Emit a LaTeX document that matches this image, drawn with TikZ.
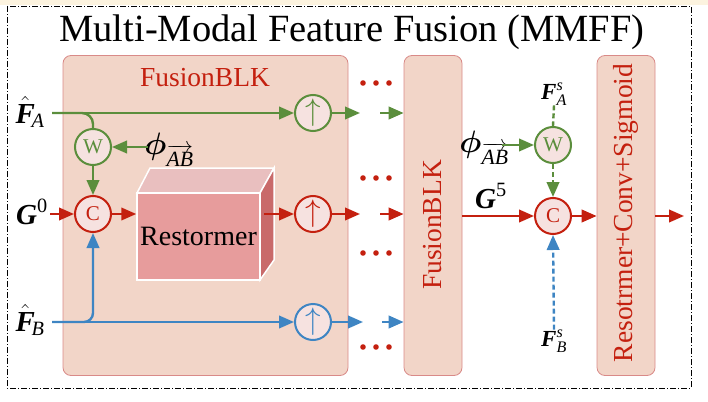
\RequirePackage{fix-cm}
\documentclass[tikz,border=0pt]{standalone}
\usepackage{amsmath,bm}
\usepackage{fontspec}
\setmainfont{Liberation Serif}
\usetikzlibrary{arrows.meta,calc}
\definecolor{cg}{HTML}{5B8E3C}
\definecolor{cr}{HTML}{C4200F}
\definecolor{cb}{HTML}{3E85C3}
\definecolor{boxfill}{HTML}{F2D5C8}
\definecolor{boxedge}{HTML}{D98A88}
\definecolor{circfill}{HTML}{F6E2E0}
\definecolor{cream}{HTML}{FCF3DF}
\definecolor{frontface}{HTML}{E79C9C}
\definecolor{topface}{HTML}{E9BFBF}
\definecolor{sideface}{HTML}{C96A6A}
\newcommand{\bfitx}[1]{\text{\bfseries\itshape #1}}
\newcommand{\itx}[1]{\text{\itshape #1}}
\begin{document}
\begin{tikzpicture}[x=1pt,y=-1pt,
  blk/.style={draw=boxedge,fill=boxfill,line width=0.8pt,rounded corners=8pt,inner sep=0pt},
  opc/.style={circle,draw=#1,fill=circfill,line width=2pt,minimum size=36pt,inner sep=0pt,text=#1,font=\fontsize{21}{21}\selectfont},
  upc/.style={opc=#1,font=\fontsize{31}{31}\selectfont},
  conn/.style={draw=#1,line width=2.4pt,-{Triangle[length=15pt,width=12.5pt]}},
  plain/.style={draw=#1,line width=2.4pt},
  lbl/.style={inner sep=0pt,font=\fontsize{29}{31}\selectfont},
  philbl/.style={inner sep=0pt,font=\fontsize{31}{33}\selectfont},
  big/.style={font=\fontsize{27.5}{30}\selectfont,text=cr},
  border/.style={draw=black,line width=0.8pt,dash pattern=on 6pt off 2pt on 1pt off 2pt}
]
\useasboundingbox (0,0) rectangle (708,401);
\fill[cream] (0,0) rectangle (708,5);
\draw[border] (7,6) rectangle (691,388);

\node[font=\fontsize{38.5}{40}\selectfont,anchor=base] (title) at (352,42) {Multi-Modal Feature Fusion (MMFF)};

% boxes
\node[blk,minimum width=285pt,minimum height=320pt] (blk1) at (205.5,215.5) {};
\node[big,anchor=base] (blk1lbl) at (205,87) {FusionBLK};
\node[blk,minimum width=58pt,minimum height=320pt] (blk2) at (433,215.5) {};
\node[big,rotate=90] (blk2lbl) at (433,225) {FusionBLK};
\node[blk,minimum width=58pt,minimum height=320pt] (blk3) at (626,215.5) {};
\node[big,rotate=90] (blk3lbl) at (626,213) {Resotrmer+Conv+Sigmoid};

% Restormer 3D box
\fill[topface,draw=white,line width=1.5pt] (137,193) -- (150,168) -- (274,168) -- (260,193) -- cycle;
\fill[sideface,draw=white,line width=1.5pt] (260,193) -- (274,168) -- (274,260) -- (260,280) -- cycle;
\node[fill=frontface,draw=white,line width=1.5pt,minimum width=123pt,minimum height=87pt,inner sep=0pt,
  font=\fontsize{28}{30}\selectfont] (rest) at (198.5,236.5) {Restormer};

% circles
\node[opc=cg] (W1) at (93,147) {W};
\node[opc=cr] (C1) at (93,214) {C};
\node[upc=cg] (U1) at (313,113) {$\uparrow$};
\node[upc=cr] (U2) at (313,214) {$\uparrow$};
\node[upc=cb] (U3) at (313,322) {$\uparrow$};
\node[opc=cg] (W2) at (553,145) {W};
\node[opc=cr] (C2) at (553,216) {C};

% labels
\node[lbl] (FA) at (30,112) {$\hat{\bfitx{F}}_{\!\itx{A}}$};
\node[lbl] (G0) at (32,212) {$\bfitx{G}^{\text{0}}$};
\node[lbl] (FB) at (30,320) {$\hat{\bfitx{F}}_{\!\itx{B}}$};
\node[philbl] (phi1) at (169,150) {$\bm{\phi}_{\overrightarrow{\itx{AB}}}$};
\node[philbl] (phi2) at (484,148) {$\bm{\phi}_{\overrightarrow{\itx{AB}}}$};
\node[lbl] (G5) at (491,196) {$\bfitx{G}^{\text{5}}$};
\node[lbl,font=\fontsize{23}{25}\selectfont] (FAs) at (554,94) {$\bfitx{F}^{\itx{s}}_{\itx{A}}$};
\node[lbl,font=\fontsize{23}{25}\selectfont] (FBs) at (554,341) {$\bfitx{F}^{\itx{s}}_{\itx{B}}$};

% coordinates
\coordinate (faS) at (52,113);
\coordinate (g0S) at (50,214);
\coordinate (fbS) at (52,322);
\coordinate (aOut) at (360,113);
\coordinate (rOut) at (360,214);
\coordinate (bOut) at (363,322);
\coordinate (aIn) at (380,113);
\coordinate (rIn) at (380,214);
\coordinate (bIn) at (382,322);
\coordinate (out) at (684,216);

% green row
\draw[conn=cg] (faS) -- (U1.west);
\draw[plain=cg,rounded corners=11pt] (faS) -| (W1.north);
\draw[conn=cg] (148,147) -- (W1.east);
\draw[conn=cg] (W1.south) -- (C1.north);
\draw[conn=cg] (U1.east) -- (aOut);
\draw[conn=cg] (aIn) -- (blk2.west |- aIn);

% red row
\draw[conn=cr] (g0S) -- (C1.west);
\draw[conn=cr] (C1.east) -- (rest.west |- C1);
\draw[conn=cr] ($(rest.east |- U2)+(3,0)$) -- (U2.west);
\draw[conn=cr] (U2.east) -- (rOut);
\draw[conn=cr] (rIn) -- (blk2.west |- rIn);

% blue row
\draw[conn=cb] (fbS) -- (U3.west);
\draw[conn=cb,rounded corners=9pt] (fbS) -| (C1.south);
\draw[conn=cb] (U3.east) -- (bOut);
\draw[conn=cb] (bIn) -- (blk2.west |- bIn);

% dots
\foreach \y in {83,178,253,347}{
  \foreach \x in {363,376,389}{
    \fill[cr] (\x,\y) circle (2.8pt);
  }
}

% right part
\draw[conn=cr] (blk2.east |- C2) -- (C2.west);
\draw[conn=cg] (502,145) -- (W2.west);
\draw[plain=cg,dash pattern=on 5pt off 3pt] (FAs.south) -- (W2.north);
\draw[conn=cg,dash pattern=on 5pt off 3pt] (W2.south) -- (C2.north);
\draw[conn=cb,dash pattern=on 5pt off 3pt] (FBs.north) -- (C2.south);
\draw[conn=cr] (C2.east) -- (blk3.west |- C2);
\draw[conn=cr] (blk3.east |- C2) -- (out);
\end{tikzpicture}
\end{document}
